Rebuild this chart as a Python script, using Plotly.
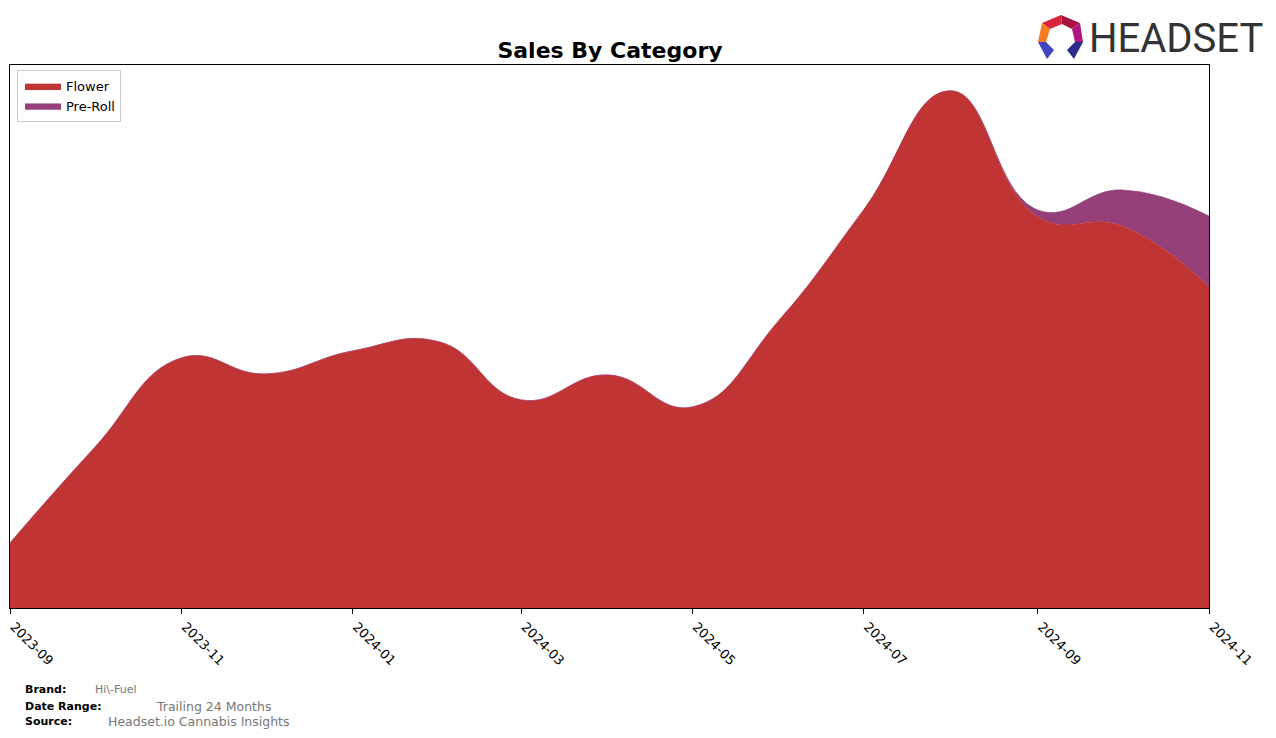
import plotly.graph_objects as go

# ---- data ----
months = ["2023-09-01", "2023-10-01", "2023-11-01", "2023-12-01", "2024-01-01",
          "2024-02-01", "2024-03-01", "2024-04-01", "2024-05-01", "2024-06-01",
          "2024-07-01", "2024-08-01", "2024-09-01", "2024-10-01", "2024-11-01"]
flower = [65, 160, 250, 234, 257, 266, 208, 233, 201, 288, 398, 517, 391, 382, 321]
preroll = [0, 0, 0, 0, 0, 0, 0, 0, 0, 0, 0, 0, 7, 36, 71]
tick_vals = ["2023-09-01", "2023-11-01", "2024-01-01", "2024-03-01",
             "2024-05-01", "2024-07-01", "2024-09-01", "2024-11-01"]
tick_text = ["2023-09", "2023-11", "2024-01", "2024-03", "2024-05", "2024-07", "2024-09", "2024-11"]

W, H = 1276, 738
L, R, T, B = 10, 1209, 65, 608  # plot area in pixels


def px(x):
    return (x - L) / (R - L)


def py(y):
    return (B - y) / (B - T)


FLOWER_C = "#c13434"
PREROLL_C = "#96407a"

fig = go.Figure()
fig.add_trace(go.Scatter(x=months, y=flower, name="Flower", stackgroup="one",
                         mode="lines", line=dict(shape="spline", smoothing=1.3, width=0.6, color=FLOWER_C),
                         fillcolor=FLOWER_C))
fig.add_trace(go.Scatter(x=months, y=preroll, name="Pre-Roll", stackgroup="one",
                         mode="lines", line=dict(shape="spline", smoothing=1.3, width=0.6, color=PREROLL_C),
                         fillcolor=PREROLL_C))

totals = [a + b for a, b in zip(flower, preroll)]
ymax = max(totals) * 1.05

fig.update_layout(
    width=W, height=H,
    margin=dict(l=L, r=W - R, t=T, b=H - B, autoexpand=False),
    paper_bgcolor="white", plot_bgcolor="white",
    font=dict(family="DejaVu Sans", color="black"),
    title=dict(text="<b>Sales By Category</b>", x=px(610), xref="paper", xanchor="center",
               y=1 - 50 / H, yanchor="middle", font=dict(size=22, family="DejaVu Sans", color="black")),
    showlegend=True,
    legend=dict(x=px(17), y=py(70), xanchor="left", yanchor="top",
                bordercolor="#cccccc", borderwidth=1, bgcolor="white",
                font=dict(size=13, family="DejaVu Sans"), traceorder="normal",
                itemwidth=36, tracegroupgap=0, indentation=2),
    xaxis=dict(range=[months[0], months[-1]], tickvals=tick_vals, ticktext=tick_text,
               tickangle=45, ticks="outside", ticklen=5, tickcolor="black", automargin=False,
               ticklabelshift=4,
               showline=True, linecolor="black", linewidth=1, mirror=True,
               showgrid=False, zeroline=False, tickfont=dict(size=13, family="DejaVu Sans")),
    yaxis=dict(range=[0, ymax], showticklabels=False, ticks="", showgrid=False, zeroline=False,
               automargin=False, showline=True, linecolor="black", linewidth=1, mirror=True),
)

# ---- footer ----
footer = [
    (24, 689, "<b>Brand:</b>", 11, "black"),
    (94, 689, "Hi\\-Fuel", 11, "#777777"),
    (24, 706, "<b>Date Range:</b>", 11, "black"),
    (155, 706, "Trailing 24 Months", 12.5, "#777777"),
    (24, 721, "<b>Source:</b>", 11, "black"),
    (107, 721, "Headset.io Cannabis Insights", 12.5, "#777777"),
]
for x, y, t, s, c in footer:
    fig.add_annotation(x=px(x - 1), y=py(y), xref="paper", yref="paper", text=t, showarrow=False,
                       xanchor="left", yanchor="middle", font=dict(size=s, color=c, family="DejaVu Sans"))

# ---- logo ----
def poly(pts, color):
    path = "M " + " L ".join(f"{px(a)},{py(b)}" for a, b in pts) + " Z"
    fig.add_shape(type="path", path=path, xref="paper", yref="paper",
                  fillcolor=color, line=dict(width=0), layer="above")

poly([(1042, 23), (1061, 15), (1062, 24), (1050, 29)], "#d7263d")
poly([(1061, 15), (1080, 23), (1072, 29), (1062, 24)], "#a8123f")
poly([(1042, 23), (1038, 42), (1046, 42), (1050, 29)], "#f47b20")
poly([(1080, 23), (1083, 42), (1075, 42), (1072, 29)], "#b0147f")
poly([(1038, 42), (1046, 42), (1054, 50), (1047, 59)], "#4146c0")
poly([(1083, 42), (1075, 42), (1067, 50), (1074, 59)], "#2c2d8a")

fig.add_annotation(x=px(1176), y=py(38), xref="paper", yref="paper", text="HEADSET", showarrow=False,
                   xanchor="center", yanchor="middle",
                   font=dict(size=40, color="#333333", family="Roboto"))

fig.write_html("out.html")
